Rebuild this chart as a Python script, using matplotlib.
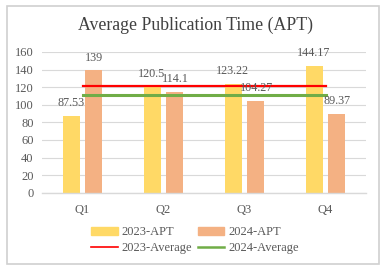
import matplotlib
matplotlib.use("Agg")
import matplotlib.pyplot as plt
from matplotlib.patches import Rectangle, Patch
from matplotlib.lines import Line2D
import numpy as np

categories = ["Q1", "Q2", "Q3", "Q4"]
apt_2023 = [87.53, 120.5, 123.22, 144.17]
apt_2024 = [139, 114.1, 104.27, 89.37]
label_2023 = ["87.53", "120.5", "123.22", "144.17"]
label_2024 = ["139", "114.1", "104.27", "89.37"]
avg_2023 = 121
avg_2024 = 111
yticks = [0, 20, 40, 60, 80, 100, 120, 140, 160]

SERIF = ["Liberation Serif", "DejaVu Serif"]
C23 = "#FFD966"
C24 = "#F4B183"
GRID = "#D9D9D9"
TXT = "#595959"

W, H = 390, 268
fig = plt.figure(figsize=(W / 100, H / 100), dpi=100)
fig.patch.set_facecolor("white")

# outer chart border
fig.add_artist(Rectangle((7 / W, 1 - 264 / H), (379 - 7) / W, (264 - 6) / H,
                         transform=fig.transFigure, fill=False,
                         edgecolor="#D0D0D0", linewidth=1.2))

left, right, top, bottom = 42, 366, 52, 192.7
ax = fig.add_axes([left / W, 1 - bottom / H, (right - left) / W, (bottom - top) / H])

x = np.arange(len(categories))
bw = 0.21
off = 0.136
ax.bar(x - off, apt_2023, bw, color=C23, zorder=2)
ax.bar(x + off, apt_2024, bw, color=C24, zorder=2)

ax.plot([x[0], x[-1]], [avg_2023, avg_2023], color="#FF0000", lw=1.6, zorder=3)
ax.plot([x[0], x[-1]], [avg_2024, avg_2024], color="#70AD47", lw=2.2, zorder=3)

for xi, v, s in zip(x - off, apt_2023, label_2023):
    ax.annotate(s, (xi, v), xytext=(-0.5, 5), textcoords="offset points",
                ha="center", va="bottom", fontsize=8.7, color=TXT, family=SERIF)
for xi, v, s in zip(x + off, apt_2024, label_2024):
    ax.annotate(s, (xi, v), xytext=(0.5, 5), textcoords="offset points",
                ha="center", va="bottom", fontsize=8.7, color=TXT, family=SERIF)

ax.set_xlim(-0.5, 3.5)
ax.set_ylim(0, 160)
ax.set_yticks(yticks)
ax.set_yticklabels([str(t) for t in yticks], family=SERIF, fontsize=9, color=TXT)
ax.set_xticks(x)
ax.set_xticklabels(categories, family=SERIF, fontsize=9, color=TXT)
ax.tick_params(axis="both", length=0)
ax.tick_params(axis="x", pad=8)
ax.tick_params(axis="y", pad=6)
ax.grid(axis="y", color=GRID, lw=0.8, zorder=0)
for s in ["top", "right", "left"]:
    ax.spines[s].set_visible(False)
ax.spines["bottom"].set_color(GRID)
ax.spines["bottom"].set_linewidth(1)

fig.text(0.5, 1 - 25 / H, "Average Publication Time (APT)", ha="center", va="center",
         fontsize=12.8, color="#404040", family=SERIF)

handles = [Patch(color=C23, label="2023-APT"),
           Line2D([], [], color="#FF0000", lw=1.2, label="2023-Average"),
           Patch(color=C24, label="2024-APT"),
           Line2D([], [], color="#70AD47", lw=1.8, label="2024-Average")]
leg = fig.legend(handles=handles, ncol=2, loc="center", bbox_to_anchor=(0.5, 1 - 240 / H),
                 frameon=False, prop={"family": SERIF, "size": 9},
                 handlelength=2.1, handleheight=0.6, columnspacing=0.5,
                 labelspacing=0.3, handletextpad=0.3)
for t in leg.get_texts():
    t.set_color(TXT)

fig.savefig("out.png", dpi=100, facecolor="white")
